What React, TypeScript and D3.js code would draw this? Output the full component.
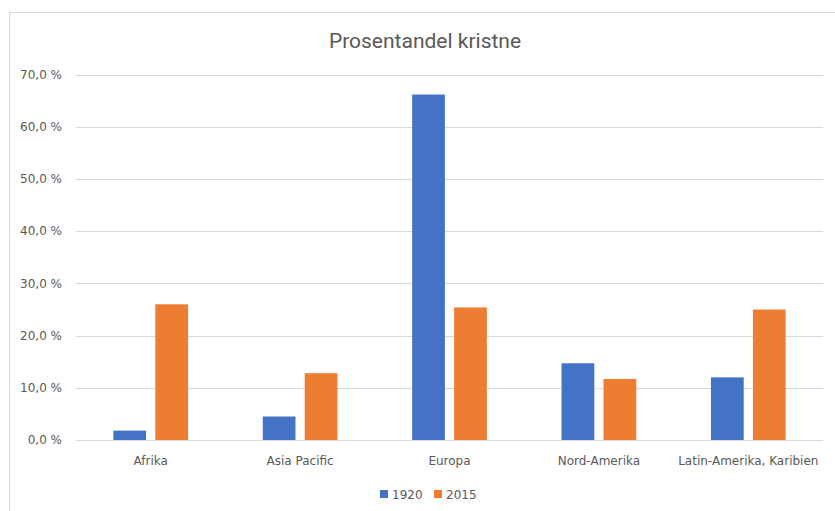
import { useEffect, useRef } from "react";
import * as d3 from "d3";

const categories = ["Afrika", "Asia Pacific", "Europa", "Nord-Amerika", "Latin-Amerika, Karibien"];
const seriesNames = ["1920", "2015"];
const values1920 = [1.8, 4.5, 66.2, 14.7, 12.0];
const values2015 = [26.0, 12.8, 25.4, 11.7, 25.0];
const yTicks = [0, 10, 20, 30, 40, 50, 60, 70];
const colors = ["#4472C4", "#ED7D31"];

const W = 835;
const H = 511;

export default function App() {
  const svgRef = useRef<SVGSVGElement>(null);

  useEffect(() => {
    if (!svgRef.current) return;
    const svg = d3.select(svgRef.current);
    svg.selectAll("*").remove();

    const font = "'DejaVu Sans', sans-serif";
    const plot = { left: 76, right: 823, top: 74.7, bottom: 440 };

    // chart frame (only top and left edges visible in the crop)
    svg.append("path")
      .attr("d", `M9.5,${H} V12.5 H${W}`)
      .attr("fill", "none")
      .attr("stroke", "#d9d9d9")
      .attr("stroke-width", 1);

    svg.append("text")
      .attr("x", 425)
      .attr("y", 48)
      .attr("text-anchor", "middle")
      .style("font-family", "Roboto, sans-serif")
      .style("font-size", "21px")
      .style("fill", "#595959")
      .text("Prosentandel kristne");

    const y = d3.scaleLinear().domain([0, 70]).range([plot.bottom, plot.top]);
    const x0 = d3.scaleBand<string>()
      .domain(categories)
      .range([plot.left, plot.right])
      .paddingInner(0.5)
      .paddingOuter(0.25);
    const x1 = d3.scaleBand<string>()
      .domain(seriesNames)
      .range([0, x0.bandwidth()])
      .paddingInner(0.22);

    // gridlines
    svg.append("g")
      .selectAll("line")
      .data(yTicks)
      .enter()
      .append("line")
      .attr("x1", plot.left)
      .attr("x2", plot.right)
      .attr("y1", d => Math.round(y(d)) + 0.5)
      .attr("y2", d => Math.round(y(d)) + 0.5)
      .attr("stroke", "#d9d9d9")
      .attr("stroke-width", 1);

    // y labels
    svg.append("g")
      .selectAll("text")
      .data(yTicks)
      .enter()
      .append("text")
      .attr("x", 62)
      .attr("y", d => y(d))
      .attr("dy", "0.35em")
      .attr("text-anchor", "end")
      .style("font-family", font)
      .style("font-size", "12px")
      .style("fill", "#595959")
      .text(d => d.toFixed(1).replace(".", ",") + " %");

    // bars
    const seriesValues = [values1920, values2015];
    seriesNames.forEach((s, si) => {
      svg.append("g")
        .selectAll("rect")
        .data(categories)
        .enter()
        .append("rect")
        .attr("x", c => (x0(c) as number) + (x1(s) as number))
        .attr("width", x1.bandwidth())
        .attr("y", (c, i) => y(seriesValues[si][i]))
        .attr("height", (c, i) => plot.bottom - y(seriesValues[si][i]))
        .attr("fill", colors[si]);
    });

    // category labels
    svg.append("g")
      .selectAll("text")
      .data(categories)
      .enter()
      .append("text")
      .attr("x", c => (x0(c) as number) + x0.bandwidth() / 2)
      .attr("y", 465)
      .attr("text-anchor", "middle")
      .style("font-family", font)
      .style("font-size", "12px")
      .style("fill", "#595959")
      .text(c => c);

    // legend
    const legendX = [380, 434];
    seriesNames.forEach((s, si) => {
      svg.append("rect")
        .attr("x", legendX[si])
        .attr("y", 490)
        .attr("width", 8)
        .attr("height", 8)
        .attr("fill", colors[si]);
      svg.append("text")
        .attr("x", legendX[si] + 12)
        .attr("y", 498.5)
        .style("font-family", font)
        .style("font-size", "12px")
        .style("fill", "#595959")
        .text(s);
    });
  }, []);

  return (
    <svg
      ref={svgRef}
      width={W}
      height={H}
      style={{ position: "absolute", left: 0, top: 0, background: "#fff" }}
    />
  );
}
